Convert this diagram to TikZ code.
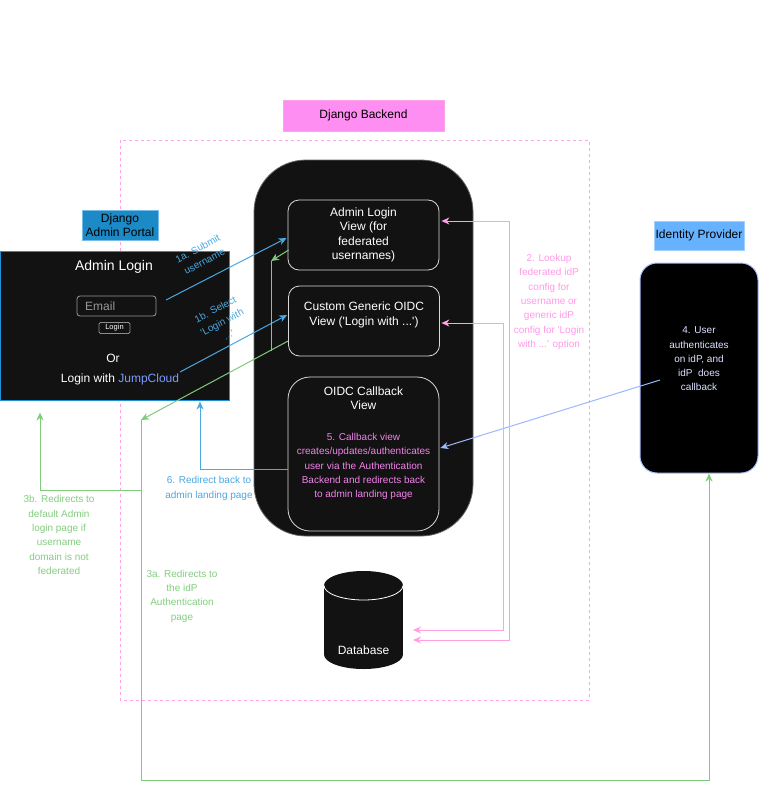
\documentclass[tikz,border=0pt]{standalone}
\usepackage{fontspec}
\setmainfont{Liberation Sans}
\newfontfamily\lib{Liberation Sans}
\usetikzlibrary{arrows.meta,calc}
\definecolor{bg}{HTML}{121212}
\definecolor{pinkdash}{HTML}{FFA3E8}
\definecolor{pinkfill}{HTML}{FF8EF2}
\definecolor{pinkln}{HTML}{FFA0E6}
\definecolor{pinktxt}{HTML}{F282EA}
\definecolor{pinklbl}{HTML}{FF9AE8}
\definecolor{portalfill}{HTML}{1B8AC6}
\definecolor{portaledge}{HTML}{1C90D8}
\definecolor{bluearr}{HTML}{4AA8E2}
\definecolor{grn}{HTML}{7FCB7B}
\definecolor{grntxt}{HTML}{84CE80}
\definecolor{idplbl}{HTML}{66B2FF}
\definecolor{idpedge}{HTML}{A8BEFF}
\definecolor{lightblue}{HTML}{9DB8FF}
\definecolor{jc}{HTML}{7A9CFF}
\definecolor{idptxt}{HTML}{DCE3FF}
\begin{document}
\begin{tikzpicture}[x=1pt,y=-1pt,
 every node/.style={inner sep=0pt, font=\lib\fontsize{12}{14.5}\selectfont},
 f10/.style={font=\lib\fontsize{10}{14.3}\selectfont, align=center},
 view/.style={draw=white!85!black, line width=0.8pt, fill=bg, rounded corners=11pt, minimum width=151pt, text=white, align=center},
 tag/.style={line width=0.8pt, align=center, text=black},
 con/.style={line width=1pt},
 arr/.style={-{Stealth[length=8pt,width=7pt,inset=2.5pt]}},
 darr/.style={{Stealth[length=8pt,width=7pt,inset=2.5pt]}-{Stealth[length=8pt,width=7pt,inset=2.5pt]}},
]
\useasboundingbox (0,0) rectangle (760,789);
\fill[white] (0,0) rectangle (760,789);

% backend region
\draw[pinkdash, line width=0.8pt, dash pattern=on 3pt off 3pt] (120,140) rectangle (589,700);
\node[tag, fill=pinkfill, draw=pinkdash, minimum width=161pt, minimum height=31pt] (beLbl) at (363.5,115.5) {Django Backend};
\node[fill=bg, draw=black!60, line width=0.8pt, rounded corners=52pt, minimum width=219pt, minimum height=376pt] (be) at (363.5,348) {};

\node[view, minimum height=70pt] (alv) at (363.5,235) {Admin Login\\View (for\\federated\\usernames)};
\node[view, minimum height=70pt] (cgv) at (364,321) {};
\node[text=white, align=center] (cgvT) at (364,315) {Custom Generic OIDC\\View ('Login with ...')};
\node[view, rounded corners=22pt, minimum height=154pt] (ocv) at (363.5,454) {};
\node[text=white, align=center] (ocvT) at (363.5,398) {OIDC Callback\\View};
\node[f10, text=pinktxt] (ocvN) at (363.5,466.5) {5. Callback view\\creates/updates/authenticates\\user via the Authentication\\Backend and redirects back\\to admin landing page};

% database
\fill[bg] (324,585.5) rectangle (403,654.5);
\fill[bg] (363.5,585.5) ellipse [x radius=39.5pt, y radius=14.5pt];
\fill[bg] (363.5,654.5) ellipse [x radius=39.5pt, y radius=14.5pt];
\draw[white, line width=0.8pt] (324,585.5) .. controls (324,593.5) and (341.7,600) .. (363.5,600) .. controls (385.3,600) and (403,593.5) .. (403,585.5);
\node[text=white] (db) at (363.5,650) {Database};

% admin portal
\node[tag, fill=portalfill, draw=portaledge!60!white, minimum width=76pt, minimum height=30pt] (ptLbl) at (120,225) {Django\\Admin Portal};
\node[fill=bg, draw=portaledge, line width=1pt, minimum width=229pt, minimum height=149pt] (pt) at (115,325.5) {};
\node[text=white, font=\lib\fontsize{14}{16}\selectfont] (ptTitle) at (114,267) {Admin Login};
\node[draw=gray!80, line width=0.8pt, rounded corners=3pt, fill=bg, minimum width=79pt, minimum height=20pt] (email) at (116.5,306) {};
\node[anchor=west, text=gray!80] (emailT) at (85,306) {Email};
\node[draw=gray!90, line width=0.8pt, rounded corners=1.5pt, minimum width=31pt, minimum height=11pt, text=white, font=\lib\fontsize{7.5}{9}\selectfont] (btn) at (114.5,328) {Login};
\node[text=white] (or) at (113,358) {Or};
\node[text=white] (lw) at (120,379) {Login with \textcolor{jc}{JumpCloud}};

% identity provider
\node[tag, fill=idplbl, draw=idplbl!60!white, minimum width=90pt, minimum height=29pt] (idpLbl) at (699,235.5) {Identity Provider};
\node[fill=black, draw=idpedge, line width=1pt, rounded corners=17pt, minimum width=118pt, minimum height=210pt] (idp) at (699,368) {};
\node[f10, text=idptxt] (idpT) at (699,359) {4. User\\authenticates\\on idP, and\\idP\ \ does\\callback};

% connectors
\coordinate (s1a) at (166,300);
\coordinate (s1b) at (180,372);
\coordinate (g1) at (271,261);
\coordinate (g1b) at (271,351);
\coordinate (g2) at (141,420);
\coordinate (g3) at (141,490);
\coordinate (g4) at (141,780);
\coordinate (s4) at ($(idp.center)+(-39,12)$);
\coordinate (dbA) at (413,640);
\coordinate (dbB) at (413,630);

\draw[con, bluearr, arr] (s1a) -- ($(alv.west)+(-1,3)$);
\draw[con, bluearr, arr] (s1b) -- ($(cgv.west)+(-1,-6)$);
\draw[con, grn, arr] ($(alv.west)+(1,15)$) -- (g1);
\draw[con, grn] (g1) -- (g1b);
\draw[con, grn, arr] ($(cgv.west)+(0,20)$) -- (g2);
\draw[con, grn, arr] (g2) -- (g4) -| ($(idp.south)+(10,0)$);
\draw[con, grn, arr] (g3) -| ($(pt.south west)+(40,12)$);
\draw[con, bluearr, arr] ($(ocv.west)+(0,15)$) -| ($(pt.south west)+(200,1)$);
\draw[con, lightblue, arr] (s4) -- ($(ocv.east)+(1,-6)$);
\draw[con, pinkln, darr] ($(alv.east)+(2,-14)$) -| (509,640) -- (dbA);
\draw[con, pinkln, darr] ($(cgv.east)+(1.5,2)$) -| (503,630) -- (dbB);

% labels
\node[f10, text=pinklbl] (l2) at (549,302) {2. Lookup\\federated idP\\config for\\username or\\generic idP\\config for 'Login\\with ...' option};
\node[f10, text=bluearr] (l6) at (209,488.5) {6. Redirect back to\\admin landing page};
\node[f10, text=grntxt] (l3b) at (59,535) {3b. Redirects to\\default Admin\\login page if\\username\\domain is not\\federated};
\node[f10, text=grntxt] (l3a) at (182,596) {3a. Redirects to\\the idP\\Authentication\\page};
\node[f10, text=bluearr, rotate=28] (l1a) at (201,255) {1a. Submit\\username};
\node[f10, text=bluearr, rotate=28] (l1b) at (222,322) {1b. Select\\'Login with\\...'};
\end{tikzpicture}
\end{document}
